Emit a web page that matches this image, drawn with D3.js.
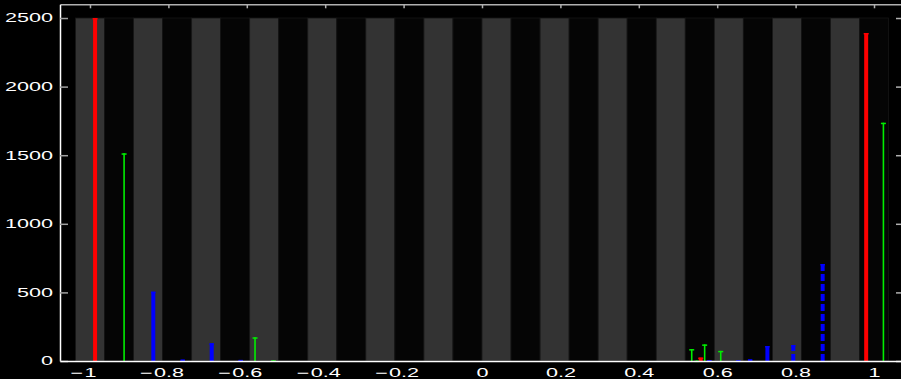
<!DOCTYPE html>
<html>
<head>
<meta charset="utf-8">
<script src="https://cdn.jsdelivr.net/npm/d3@7"></script>
<style>
  html, body { margin: 0; padding: 0; background: #000; }
  svg { display: block; }
</style>
</head>
<body>
<div id="chart"></div>
<script>
// background bins (centres), all drawn to the same height
const binCenters = [-1, -0.9259, -0.8519, -0.7778, -0.7037, -0.6296, -0.5556,
  -0.4815, -0.4074, -0.3333, -0.2593, -0.1852, -0.1111, -0.0370,
  0.0370, 0.1111, 0.1852, 0.2593, 0.3333, 0.4074, 0.4815,
  0.5556, 0.6296, 0.7037, 0.7778, 0.8519, 0.9259, 1];
const binWidth = 0.07407;
const binHeight = 2500;

// stem series
const redX = [-0.987, 0.558, 0.980];
const redY = [2500, 25, 2391];
const greenX = [-0.913, -0.579, -0.532, 0.535, 0.548, 0.568, 0.609, 1.024];
const greenY = [1514, 173, 5, 87, 3, 121, 74, 1737];
const blueX = [-0.8385, -0.7635, -0.6895, -0.6156, 0.580, 0.654, 0.684, 0.728];
const blueY = [505, 10, 129, 8, 6, 5, 12, 109];
const blueDashX = [0.794, 0.869];
const blueDashY = [116, 707];

const xTicks = [-1, -0.8, -0.6, -0.4, -0.2, 0, 0.2, 0.4, 0.6, 0.8, 1];
const yTicks = [0, 500, 1000, 1500, 2000, 2500];

const width = 901, height = 379;
const stretch = 1.8;   // tick text is drawn wide
const font = '"Liberation Sans", Arial, sans-serif';

const svg = d3.select('#chart').append('svg')
  .attr('width', width).attr('height', height)
  .style('background', '#000');

const x = d3.scaleLinear().domain([-1.0765, 1.0765]).range([60, 904]);
const y = d3.scaleLinear().domain([0, 2600]).range([361, 4.3]);

// alternating bands
svg.append('g').selectAll('rect')
  .data(binCenters)
  .enter().append('rect')
  .attr('x', d => x(d - binWidth / 2))
  .attr('width', d => x(d + binWidth / 2) - x(d - binWidth / 2))
  .attr('y', y(binHeight))
  .attr('height', y(0) - y(binHeight))
  .attr('fill', (d, i) => i % 2 === 0 ? '#333333' : '#050505')
  .attr('stroke', '#161616')
  .attr('stroke-width', 0.8);

// stems with small caps at the top
function stems(xs, ys, color, w, capW, dash) {
  const g = svg.append('g');
  const data = xs.map((d, i) => ({ x: d, v: ys[i] }));
  g.selectAll('line.stem').data(data).enter().append('line')
    .attr('class', 'stem')
    .attr('x1', d => x(d.x)).attr('x2', d => x(d.x))
    .attr('y1', y(0)).attr('y2', d => y(d.v))
    .attr('stroke', color).attr('stroke-width', w)
    .attr('stroke-dasharray', dash || null);
  g.selectAll('line.cap').data(data).enter().append('line')
    .attr('class', 'cap')
    .attr('x1', d => x(d.x) - capW / 2).attr('x2', d => x(d.x) + capW / 2)
    .attr('y1', d => y(d.v) + 0.75).attr('y2', d => y(d.v) + 0.75)
    .attr('stroke', color).attr('stroke-width', 1.5);
}
stems(redX, redY, '#ff0000', 4, 5);
stems(greenX, greenY, '#00ee00', 1.6, 5);
stems(blueX, blueY, '#0000ff', 4, 4.5);
stems(blueDashX, blueDashY, '#0000ff', 4, 4.5, '7,3');

// axes
const axTop = svg.append('g').attr('transform', `translate(0,${y(2600)})`)
  .call(d3.axisTop(x).tickValues(xTicks).tickSizeInner(-4).tickSizeOuter(0).tickFormat(''));
axTop.select('.domain').attr('stroke', '#b0b0b0').attr('stroke-width', 1.5);
axTop.selectAll('.tick line').attr('stroke', '#b0b0b0').attr('stroke-width', 1.5);

const axRight = svg.append('g').attr('transform', `translate(904,0)`)
  .call(d3.axisRight(y).tickValues(yTicks).tickSizeInner(-8).tickSizeOuter(0).tickFormat(''));
axRight.select('.domain').attr('stroke', '#b0b0b0');
axRight.selectAll('.tick line').attr('stroke', '#b0b0b0').attr('stroke-width', 1.5);

const axLeft = svg.append('g').attr('transform', `translate(60,0)`)
  .call(d3.axisLeft(y).tickValues(yTicks).tickSizeInner(-8).tickSizeOuter(0).tickPadding(7)
    .tickFormat(d3.format('d')));
axLeft.select('.domain').attr('stroke', '#ffffff').attr('stroke-width', 1.5);
axLeft.selectAll('.tick line').attr('stroke', '#a0a0a0').attr('stroke-width', 1.5);
axLeft.selectAll('.tick text')
  .attr('fill', '#fff')
  .attr('x', -7 / stretch)
  .attr('transform', `scale(${stretch},1)`)
  .style('font-family', font)
  .style('font-size', '12px');

const axBottom = svg.append('g').attr('transform', `translate(0,${y(0)})`)
  .call(d3.axisBottom(x).tickValues(xTicks).tickSizeInner(0).tickSizeOuter(0).tickPadding(7)
    .tickFormat(d => String(Math.abs(d))));
axBottom.select('.domain').attr('stroke', '#ffffff').attr('stroke-width', 1.5);
axBottom.selectAll('.tick text')
  .attr('fill', '#fff')
  .attr('transform', `scale(${stretch},1)`)
  .style('font-family', font)
  .style('font-size', '12px');
// minus signs hang to the left of the number
axBottom.selectAll('.tick').each(function (d) {
  if (d >= 0) return;
  const t = d3.select(this).select('text');
  const w = t.node().getComputedTextLength();
  d3.select(this).append('text')
    .attr('fill', '#fff')
    .attr('text-anchor', 'end')
    .attr('x', -w / 2 - 1)
    .attr('y', t.attr('y'))
    .attr('dy', t.attr('dy'))
    .attr('transform', `scale(${stretch},1)`)
    .style('font-family', font)
    .style('font-size', '12px')
    .text('\u2212');
});
</script>
</body>
</html>
